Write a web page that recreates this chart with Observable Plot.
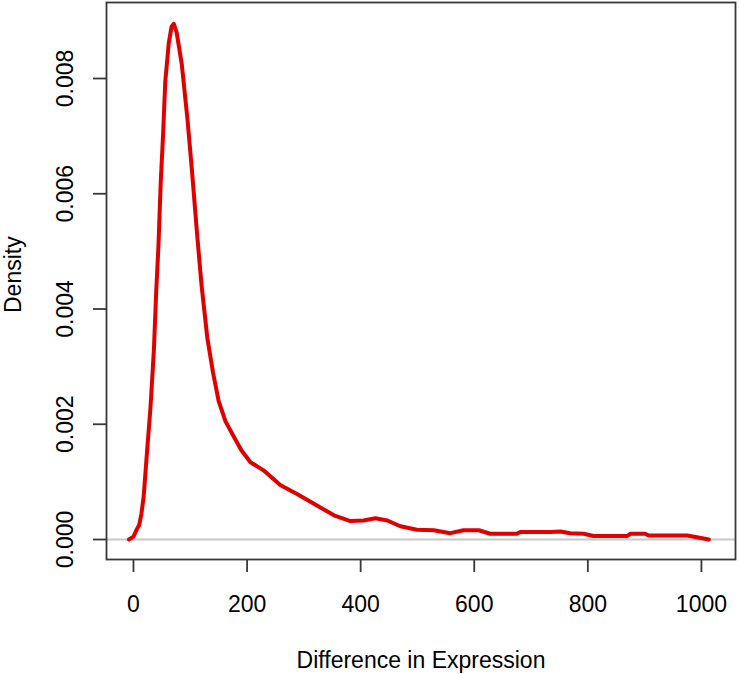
<!DOCTYPE html>
<html><head><meta charset="utf-8">
<script src="https://cdn.jsdelivr.net/npm/d3@7"></script>
<script src="https://cdn.jsdelivr.net/npm/@observablehq/plot@0.6"></script>
<style>body{margin:0;background:#fff}</style>
</head><body><div id="chart"></div>
<script>
const diff = [-8, 0, 6, 10, 14, 18, 24, 30, 36, 40, 44, 48, 52, 56, 62, 67, 71, 76, 85, 95, 103, 112, 120, 130, 140, 150, 162, 177, 190, 206, 229, 259, 288, 323, 353, 382, 405, 426, 447, 470, 499, 529, 558, 581, 608, 628, 675, 681, 734, 752, 769, 793, 810, 869, 875, 901, 907, 975, 992, 1013];
const density = [0, 0.00005, 0.00018, 0.00025, 0.00045, 0.00075, 0.00154, 0.0023, 0.0033, 0.0043, 0.0051, 0.0062, 0.007, 0.00795, 0.0086, 0.0089, 0.00895, 0.0088, 0.00825, 0.0073, 0.0064, 0.0053, 0.0044, 0.0035, 0.0029, 0.0024, 0.00205, 0.00178, 0.00155, 0.00134, 0.0012, 0.00094, 0.00079, 0.00059, 0.00042, 0.00032, 0.00033, 0.00037, 0.00033, 0.00023, 0.00017, 0.00016, 0.00011, 0.00016, 0.00016, 0.0001, 0.0001, 0.00013, 0.00013, 0.00014, 0.00011, 0.0001, 0.00006, 0.00006, 0.0001, 0.0001, 0.00007, 0.00007, 0.00004, 0];
const xTicks = [0, 200, 400, 600, 800, 1000];
const yTicks = [0, 0.002, 0.004, 0.006, 0.008];
const xTitle = "Difference in Expression";
const yTitle = "Density";

const data = diff.map((x, i) => ({x, y: density[i]}));

const chart = Plot.plot({
  width: 739,
  height: 674,
  marginLeft: 106,
  marginRight: 4,
  marginTop: 2,
  marginBottom: 115,
  style: {fontFamily: "'Liberation Sans', Arial, sans-serif", fontSize: "23px", background: "#fff", color: "#000"},
  x: {domain: [-47.5, 1060]},
  y: {domain: [-0.000347, 0.009319]},
  marks: [
    Plot.ruleY([0], {stroke: "#c8c8c8", strokeWidth: 2}),
    Plot.line(data, {x: "x", y: "y", stroke: "#e00000", strokeWidth: 4, strokeLinejoin: "round"}),
    Plot.frame({stroke: "#383838", strokeWidth: 1.8}),
    Plot.axisX(xTicks, {tickSize: 13, tickPadding: 23, tickFormat: d3.format("d"), stroke: "#383838", strokeWidth: 1.8, fontSize: 23,
      label: xTitle, labelAnchor: "center", labelOffset: 108, labelArrow: "none"}),
    Plot.axisY(yTicks, {tickSize: 13, tickPadding: 21, tickRotate: -90, tickFormat: d3.format(".3f"),
      stroke: "#383838", strokeWidth: 1.8, fontSize: 23, label: null}),
    Plot.text([yTitle], {frameAnchor: "left", rotate: -90, dx: -93, dy: 32, fontSize: 23, fill: "#000"})
  ]
});
document.getElementById("chart").appendChild(chart);
</script>
</body></html>
